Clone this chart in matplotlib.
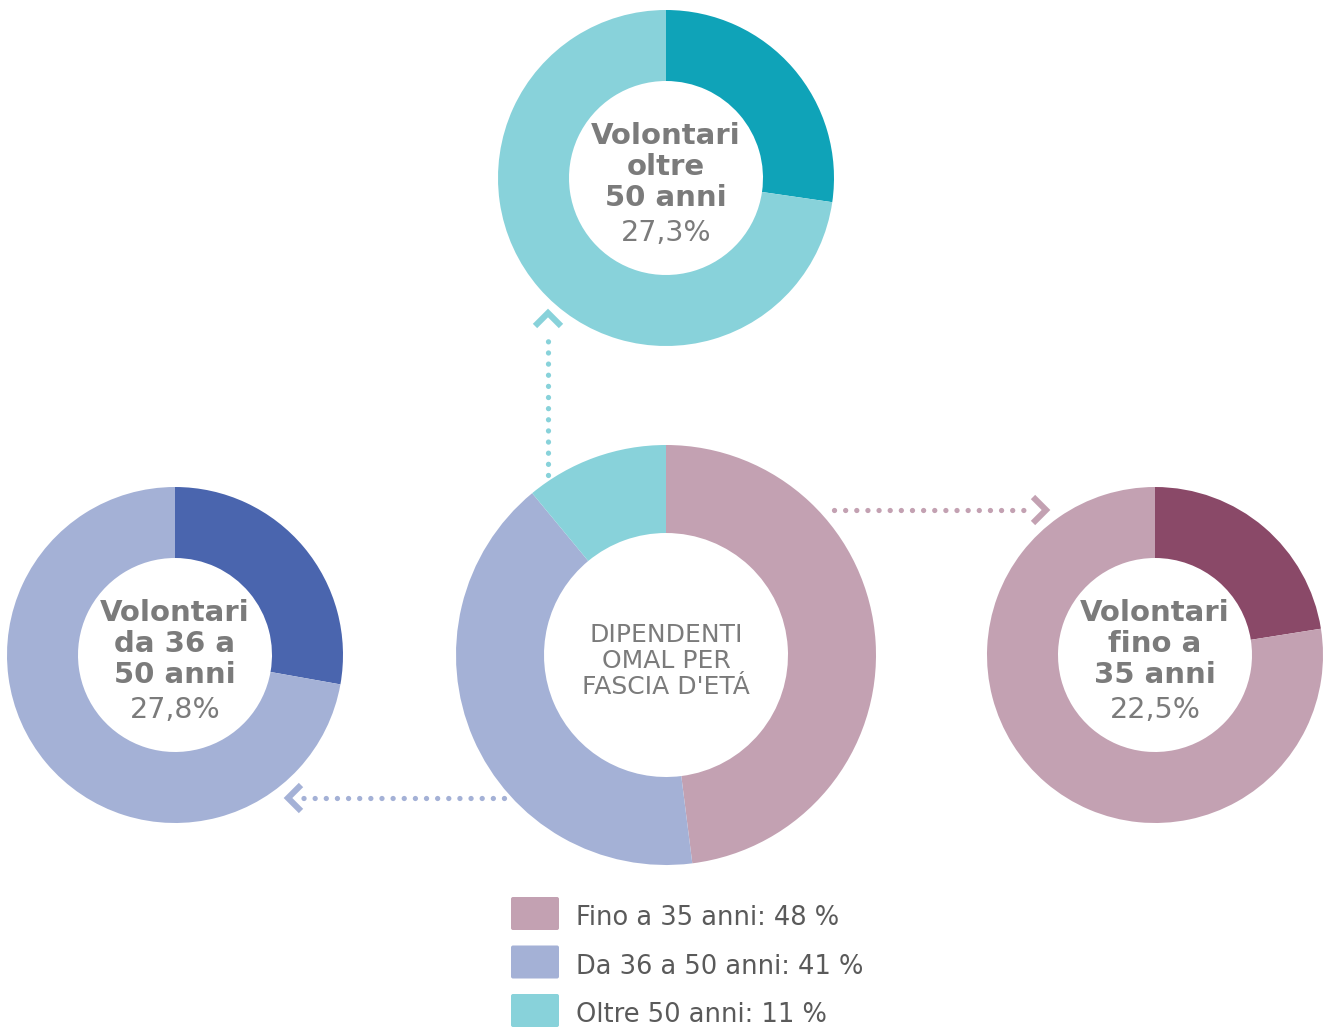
import matplotlib.pyplot as plt
from matplotlib.patches import FancyBboxPatch

W, H = 1327, 1028

# data
groups = ['Fino a 35 anni', 'Da 36 a 50 anni', 'Oltre 50 anni']
group_pct = [48, 41, 11]
vol_titles = ['Volontari\nfino a\n35 anni', 'Volontari\nda 36 a\n50 anni', 'Volontari\noltre\n50 anni']
vol_pct = [22.5, 27.8, 27.3]
vol_labels = ['22,5%', '27,8%', '27,3%']

light = ['#c3a1b2', '#a4b1d6', '#88d2da']
dark = ['#8a4968', '#4a65ae', '#0fa3b8']
grey = '#7b7b7b'
font = 'DejaVu Sans'

fig = plt.figure(figsize=(W / 100, H / 100), dpi=100)
ax = fig.add_axes([0, 0, 1, 1])
ax.set_xlim(0, W)
ax.set_ylim(0, H)
ax.set_aspect('equal')
ax.axis('off')

def Y(y):
    return H - y

# central donut
ax.pie(group_pct, colors=light, startangle=90, counterclock=False,
       center=(666, Y(655)), radius=210, frame=True,
       wedgeprops=dict(width=88, linewidth=0))
ax.text(666, Y(661), 'DIPENDENTI\nOMAL PER\nFASCIA D\'ETÁ', ha='center', va='center',
        fontsize=18, color=grey, family=font, linespacing=1.08)

# small donuts: right, left, top
centers = [(1155, 655), (175, 655), (666, 178)]
for i, (cx, cy) in enumerate(centers):
    ax.pie([vol_pct[i], 100 - vol_pct[i]], colors=[dark[i], light[i]], startangle=90,
           counterclock=False, center=(cx, Y(cy)), radius=168, frame=True,
           wedgeprops=dict(width=71, linewidth=0))
    ax.text(cx, Y(cy - 11), vol_titles[i], ha='center', va='center', fontsize=21,
            fontweight='bold', color=grey, family=font, linespacing=1.13)
    ax.text(cx, Y(cy + 55), vol_labels[i], ha='center', va='center', fontsize=20.5,
            color=grey, family=font)

ax.set_xlim(0, W)
ax.set_ylim(0, H)

# dotted arrows
dot = dict(lw=3.8, linestyle=(0, (0.01, 2.1)), dash_capstyle='round')
chev = dict(lw=4.4, solid_capstyle='butt', solid_joinstyle='miter')
# top (teal)
ax.plot([548, 548], [Y(475), Y(332)], color=light[2], **dot)
ax.plot([535, 548, 561], [Y(326), Y(313), Y(326)], color=light[2], **chev)
# right (pink)
ax.plot([834, 1030], [Y(510), Y(510)], color=light[0], **dot)
ax.plot([1033, 1046, 1033], [Y(497), Y(510), Y(523)], color=light[0], **chev)
# left (blue)
ax.plot([504, 303], [Y(798), Y(798)], color=light[1], **dot)
ax.plot([301, 288, 301], [Y(785), Y(798), Y(811)], color=light[1], **chev)

# legend
for i, g in enumerate(groups):
    y0 = 897 + i * 48.5
    ax.add_patch(FancyBboxPatch((511, Y(y0 + 33)), 48, 33,
                                boxstyle='round,pad=0,rounding_size=2',
                                facecolor=light[i], edgecolor='none'))
    ax.text(576, Y(y0 + 21), f'{g}: {group_pct[i]} %', ha='left', va='center',
            fontsize=18.5, color='#5a5a5a', family=font)

fig.savefig('out.png', dpi=100)
